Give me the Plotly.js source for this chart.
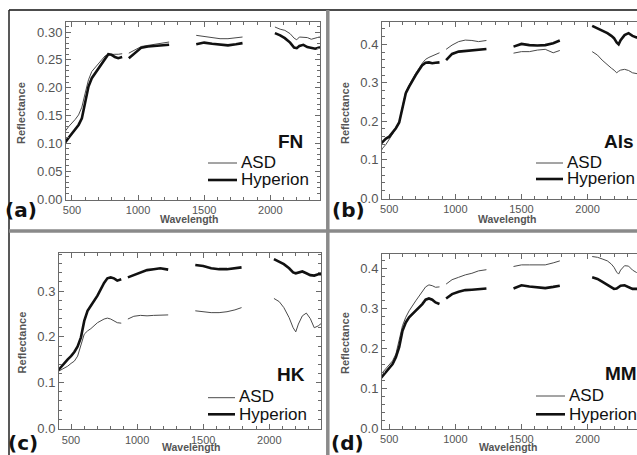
<!DOCTYPE html>
<html>
<head>
<meta charset="utf-8">
<script src="https://cdn.plot.ly/plotly-3.0.1.min.js"></script>
<style>
html,body{margin:0;padding:0;background:#fff;}
#wrap{width:637px;height:455px;overflow:hidden;position:relative;}
#chart{width:680px;height:455px;}
</style>
</head>
<body>
<div id="wrap"><div id="chart"></div></div>
<script>
// Wavelength grid (nm), null = gap between spectral segments
const wavelength = [400,450,475,500,525,550,575,600,625,650,700,750,775,800,825,850,880, null,
  930,975,1025,1075,1125,1175,1235, null,
  1440,1500,1560,1620,1680,1740,1790, null,
  2035,2075,2110,2150,2180,2200,2220,2235,2250,2280,2310,2340,2370,2400];

// (a) FN
const FN_ASD = [0.11,0.122,0.13,0.136,0.143,0.151,0.165,0.19,0.214,0.229,0.244,0.257,0.259,0.26,0.26,0.26,0.261, null,
  0.262,0.268,0.274,0.276,0.278,0.28,0.282, null,
  0.294,0.292,0.29,0.288,0.288,0.289,0.291, null,
  0.309,0.305,0.303,0.297,0.289,0.286,0.291,0.291,0.29,0.29,0.287,0.289,0.291,0.29];
const FN_HYP = [0.095,0.102,0.11,0.118,0.125,0.133,0.145,0.175,0.202,0.217,0.235,0.253,0.26,0.259,0.255,0.253,0.255, null,
  0.253,0.262,0.272,0.274,0.275,0.276,0.277, null,
  0.278,0.281,0.279,0.277,0.276,0.278,0.28, null,
  0.298,0.294,0.289,0.281,0.272,0.271,0.275,0.276,0.277,0.273,0.271,0.27,0.272,0.272];

// (b) Als
const ALS_ASD = [0.1,0.13,0.14,0.152,0.167,0.182,0.195,0.238,0.277,0.294,0.325,0.351,0.361,0.366,0.37,0.374,0.378, null,
  0.387,0.398,0.407,0.411,0.41,0.407,0.41, null,
  0.377,0.381,0.381,0.385,0.387,0.378,0.384, null,
  0.381,0.372,0.359,0.346,0.338,0.333,0.326,0.33,0.333,0.335,0.332,0.326,0.323,0.322];
const ALS_HYP = [0.13,0.148,0.155,0.16,0.17,0.182,0.197,0.238,0.273,0.29,0.32,0.346,0.352,0.353,0.351,0.352,0.353, null,
  0.359,0.375,0.381,0.383,0.385,0.387,0.388, null,
  0.394,0.401,0.398,0.397,0.398,0.403,0.41, null,
  0.448,0.442,0.437,0.429,0.422,0.416,0.405,0.4,0.411,0.424,0.429,0.422,0.418,0.418];

// (c) HK
const HK_ASD = [0.124,0.131,0.136,0.142,0.147,0.158,0.184,0.206,0.213,0.218,0.231,0.239,0.241,0.239,0.235,0.231,0.23, null,
  0.239,0.245,0.247,0.246,0.247,0.248,0.248, null,
  0.257,0.255,0.253,0.253,0.255,0.259,0.264, null,
  0.284,0.277,0.264,0.242,0.22,0.211,0.228,0.237,0.246,0.252,0.24,0.22,0.224,0.231];
const HK_HYP = [0.126,0.144,0.151,0.158,0.167,0.179,0.199,0.235,0.257,0.268,0.29,0.318,0.328,0.33,0.328,0.323,0.326, null,
  0.33,0.335,0.342,0.346,0.348,0.35,0.347, null,
  0.357,0.355,0.35,0.348,0.348,0.35,0.352, null,
  0.37,0.364,0.359,0.35,0.341,0.339,0.341,0.342,0.343,0.339,0.335,0.334,0.337,0.337];

// (d) MM
const MM_ASD = [0.12,0.139,0.147,0.156,0.168,0.185,0.218,0.256,0.277,0.293,0.318,0.343,0.353,0.358,0.356,0.352,0.353, null,
  0.36,0.371,0.377,0.383,0.387,0.393,0.396, null,
  0.404,0.408,0.408,0.408,0.408,0.413,0.418, null,
  0.429,0.427,0.423,0.418,0.41,0.402,0.39,0.385,0.395,0.406,0.405,0.395,0.389,0.388];
const MM_HYP = [0.11,0.13,0.139,0.149,0.16,0.177,0.202,0.243,0.264,0.277,0.293,0.31,0.321,0.324,0.321,0.314,0.31, null,
  0.324,0.335,0.341,0.345,0.346,0.348,0.349, null,
  0.349,0.357,0.354,0.352,0.35,0.353,0.356, null,
  0.377,0.373,0.366,0.358,0.352,0.348,0.349,0.352,0.356,0.357,0.352,0.348,0.348,0.348];

const xTickValues = [500, 1000, 1500, 2000];
const panelTags = ["(a)","(b)","(c)","(d)"];
const panelNames = ["FN","Als","HK","MM"];
const seriesNames = ["ASD","Hyperion"];

const W = 680, H = 455;
const px = x => x / W;
const py = y => 1 - y / H;

const panels = [
  {asd: FN_ASD, hyp: FN_HYP, xd:[66,320], yd:[22,199.5], xr:[455,2376], yr:[-0.001,0.318], dt:0.05, fmt:'.2f', mdt:0.01,
   tag:[21,210], name:[290,141], leg:[208,237,163,180], refl:[21,113], wav:[189,219]},
  {asd: ALS_ASD, hyp: ALS_HYP, xd:[382,660], yd:[22,199], xr:[445,2548], yr:[-0.002,0.458], dt:0.1, fmt:'.1f', mdt:0.02,
   tag:[348,210], name:[619,141], leg:[536,563,163,179], refl:[345,113], wav:[507,219]},
  {asd: HK_ASD, hyp: HK_HYP, xd:[59,321], yd:[252.7,429.3], xr:[409,2391], yr:[-0.002,0.384], dt:0.1, fmt:'.1f', mdt:0.02,
   tag:[23,443], name:[290.5,374.5], leg:[208,235,397.7,414.3], refl:[21.7,342.7], wav:[191,447]},
  {asd: MM_ASD, hyp: MM_HYP, xd:[382,660], yd:[253.5,428.8], xr:[445,2548], yr:[-0.002,0.4365], dt:0.1, fmt:'.1f', mdt:0.02,
   tag:[347,443], name:[621,373.5], leg:[536,565,396,414.3], refl:[345,343], wav:[508,447]}
];

const data = [];
const layout = {
  width: W, height: H,
  margin: {l:0, r:0, t:0, b:0},
  paper_bgcolor: '#fff', plot_bgcolor: '#fff',
  showlegend: false,
  shapes: [], annotations: []
};

const axCommon = {
  showline: true, linecolor: '#6a6a6a', linewidth: 1, mirror: 'allticks',
  ticks: 'inside', ticklen: 5, tickcolor: '#6a6a6a', tickwidth: 1,
  showgrid: false, zeroline: false, fixedrange: true
};

panels.forEach((p, i) => {
  const n = i + 1;
  const xa = 'x' + (n === 1 ? '' : n), ya = 'y' + (n === 1 ? '' : n);
  const xk = 'xaxis' + (n === 1 ? '' : n), yk = 'yaxis' + (n === 1 ? '' : n);
  data.push({x: wavelength, y: p.asd, xaxis: xa, yaxis: ya, type: 'scatter', mode: 'lines',
    name: seriesNames[0], connectgaps: false, line: {color: '#4a4a4a', width: 1}});
  data.push({x: wavelength, y: p.hyp, xaxis: xa, yaxis: ya, type: 'scatter', mode: 'lines',
    name: seriesNames[1], connectgaps: false, line: {color: '#111', width: 2.6}});
  layout[xk] = Object.assign({}, axCommon, {
    domain: [px(p.xd[0]), px(p.xd[1])], range: p.xr, anchor: ya,
    tickmode: 'array', tickvals: xTickValues,
    minor: {ticks: 'inside', ticklen: 3, tick0: 0, dtick: 100, tickcolor: '#6a6a6a'},
    tickfont: {family: 'Liberation Sans, Arial, sans-serif', size: 11, color: '#555'}
  });
  layout[yk] = Object.assign({}, axCommon, {
    domain: [py(p.yd[1]), py(p.yd[0])], range: p.yr, anchor: xa,
    tick0: 0, dtick: p.dt, tickformat: p.fmt,
    minor: {ticks: 'inside', ticklen: 3, dtick: p.mdt, tickcolor: '#6a6a6a'},
    tickfont: {family: 'Liberation Sans, Arial, sans-serif', size: 13, color: '#555'}
  });
  // legend samples
  layout.shapes.push({type:'line', xref:'paper', yref:'paper', x0:px(p.leg[0]), x1:px(p.leg[1]), y0:py(p.leg[2]), y1:py(p.leg[2]), line:{color:'#4a4a4a', width:1}});
  layout.shapes.push({type:'line', xref:'paper', yref:'paper', x0:px(p.leg[0]), x1:px(p.leg[1]), y0:py(p.leg[3]), y1:py(p.leg[3]), line:{color:'#111', width:2.6}});
  const lf = {family: 'Liberation Sans, Arial, sans-serif', size: 17, color: '#111'};
  layout.annotations.push({text: seriesNames[0], xref:'paper', yref:'paper', x:px(p.leg[1]+1.5), y:py(p.leg[2]-1), xanchor:'left', yanchor:'middle', showarrow:false, font: lf});
  layout.annotations.push({text: seriesNames[1], xref:'paper', yref:'paper', x:px(p.leg[1]+1.5), y:py(p.leg[3]), xanchor:'left', yanchor:'middle', showarrow:false, font: lf});
  // panel name
  layout.annotations.push({text: '<b>' + panelNames[i] + '</b>', xref:'paper', yref:'paper', x:px(p.name[0]), y:py(p.name[1]), xanchor:'center', yanchor:'middle', showarrow:false,
    font: {family: 'Liberation Sans, Arial, sans-serif', size: 19, color: '#111'}});
  // panel tag
  layout.annotations.push({text: '<b>' + panelTags[i] + '</b>', xref:'paper', yref:'paper', x:px(p.tag[0]), y:py(p.tag[1]), xanchor:'center', yanchor:'middle', showarrow:false,
    font: {family: 'DejaVu Sans, sans-serif', size: 20, color: '#111'}});
  // axis titles
  layout.annotations.push({text: '<b>Reflectance</b>', xref:'paper', yref:'paper', x:px(p.refl[0]), y:py(p.refl[1]), textangle:-90, xanchor:'center', yanchor:'middle', showarrow:false,
    font: {family: 'Liberation Sans, Arial, sans-serif', size: 11, color: '#555'}});
  layout.annotations.push({text: '<b>Wavelength</b>', xref:'paper', yref:'paper', x:px(p.wav[0]), y:py(p.wav[1]), xanchor:'center', yanchor:'middle', showarrow:false,
    font: {family: 'Liberation Sans, Arial, sans-serif', size: 10.5, color: '#555'}});
});

// figure frame and separators
layout.shapes.push({type:'line', xref:'paper', yref:'paper', x0:px(9), x1:px(680), y0:py(10), y1:py(10), line:{color:'#111', width:1.5}});
layout.shapes.push({type:'line', xref:'paper', yref:'paper', x0:px(9), x1:px(9), y0:py(10), y1:py(455), line:{color:'#222', width:1.5}});
layout.shapes.push({type:'line', xref:'paper', yref:'paper', x0:px(327.8), x1:px(327.8), y0:py(10), y1:py(455), line:{color:'#8a8a8a', width:3.5}});
layout.shapes.push({type:'line', xref:'paper', yref:'paper', x0:px(9), x1:px(680), y0:py(231), y1:py(231), line:{color:'#8a8a8a', width:3.5}});

Plotly.newPlot('chart', data, layout, {staticPlot: true, displayModeBar: false});
</script>
</body>
</html>
